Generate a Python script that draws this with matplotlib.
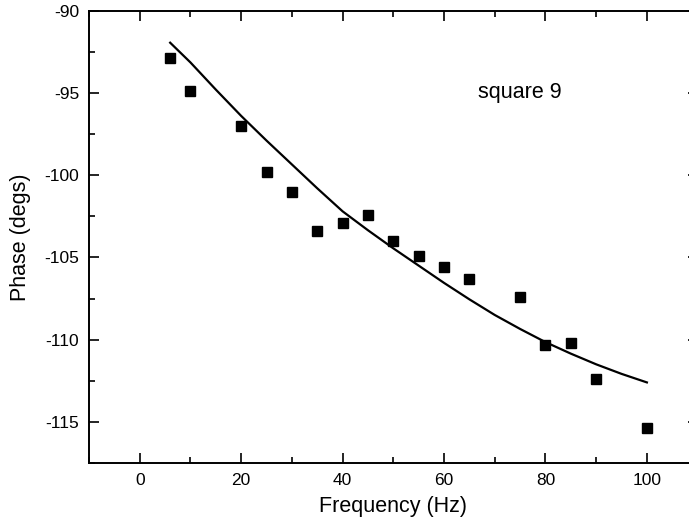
import matplotlib
matplotlib.use("Agg")
import matplotlib.pyplot as plt
from matplotlib.ticker import MultipleLocator

plt.rcParams["font.family"] = ["Liberation Sans", "DejaVu Sans"]
plt.rcParams["axes.unicode_minus"] = False

# measured phase points
freq = [6, 10, 20, 25, 30, 35, 40, 45, 50, 55, 60, 65, 75, 80, 85, 90, 100]
phase = [-92.9, -94.9, -97.0, -99.8, -101.0, -103.4, -102.9, -102.4, -104.0,
         -104.9, -105.6, -106.3, -107.4, -110.3, -110.2, -112.4, -115.4]

# fitted curve
fit_freq = [6, 10, 15, 20, 25, 30, 35, 40, 45, 50, 55, 60, 65, 70, 75, 80,
            85, 90, 95, 100]
fit_phase = [-91.95, -93.15, -94.8, -96.4, -97.9, -99.35, -100.8, -102.2,
             -103.35, -104.45, -105.5, -106.55, -107.55, -108.5, -109.35,
             -110.15, -110.85, -111.5, -112.08, -112.6]

fig = plt.figure(figsize=(6.89, 5.31), dpi=100)
ax = fig.add_axes([0.1292, 0.128, 0.8833, 0.852])

ax.plot(fit_freq, fit_phase, color="black", linewidth=1.6)
ax.plot(freq, phase, linestyle="none", marker="s", markersize=6.8,
        color="black")

ax.set_xlim(-10, 110)
ax.set_ylim(-117.5, -90)
ax.xaxis.set_major_locator(MultipleLocator(20))
ax.xaxis.set_minor_locator(MultipleLocator(10))
ax.yaxis.set_major_locator(MultipleLocator(5))
ax.yaxis.set_minor_locator(MultipleLocator(2.5))

ax.tick_params(which="both", direction="in", top=True, right=True,
               labelsize=12.5, width=1.2)
ax.tick_params(which="major", length=7, pad=7)
ax.tick_params(which="minor", length=4)
for s in ax.spines.values():
    s.set_linewidth(1.4)

ax.set_xlabel("Frequency (Hz)", fontsize=15.5, labelpad=6)
ax.set_ylabel("Phase (degs)", fontsize=15.5, labelpad=10)

ax.text(75, -95, "square 9", fontsize=15.5, ha="center", va="center")

fig.savefig("out.png", dpi=100)
